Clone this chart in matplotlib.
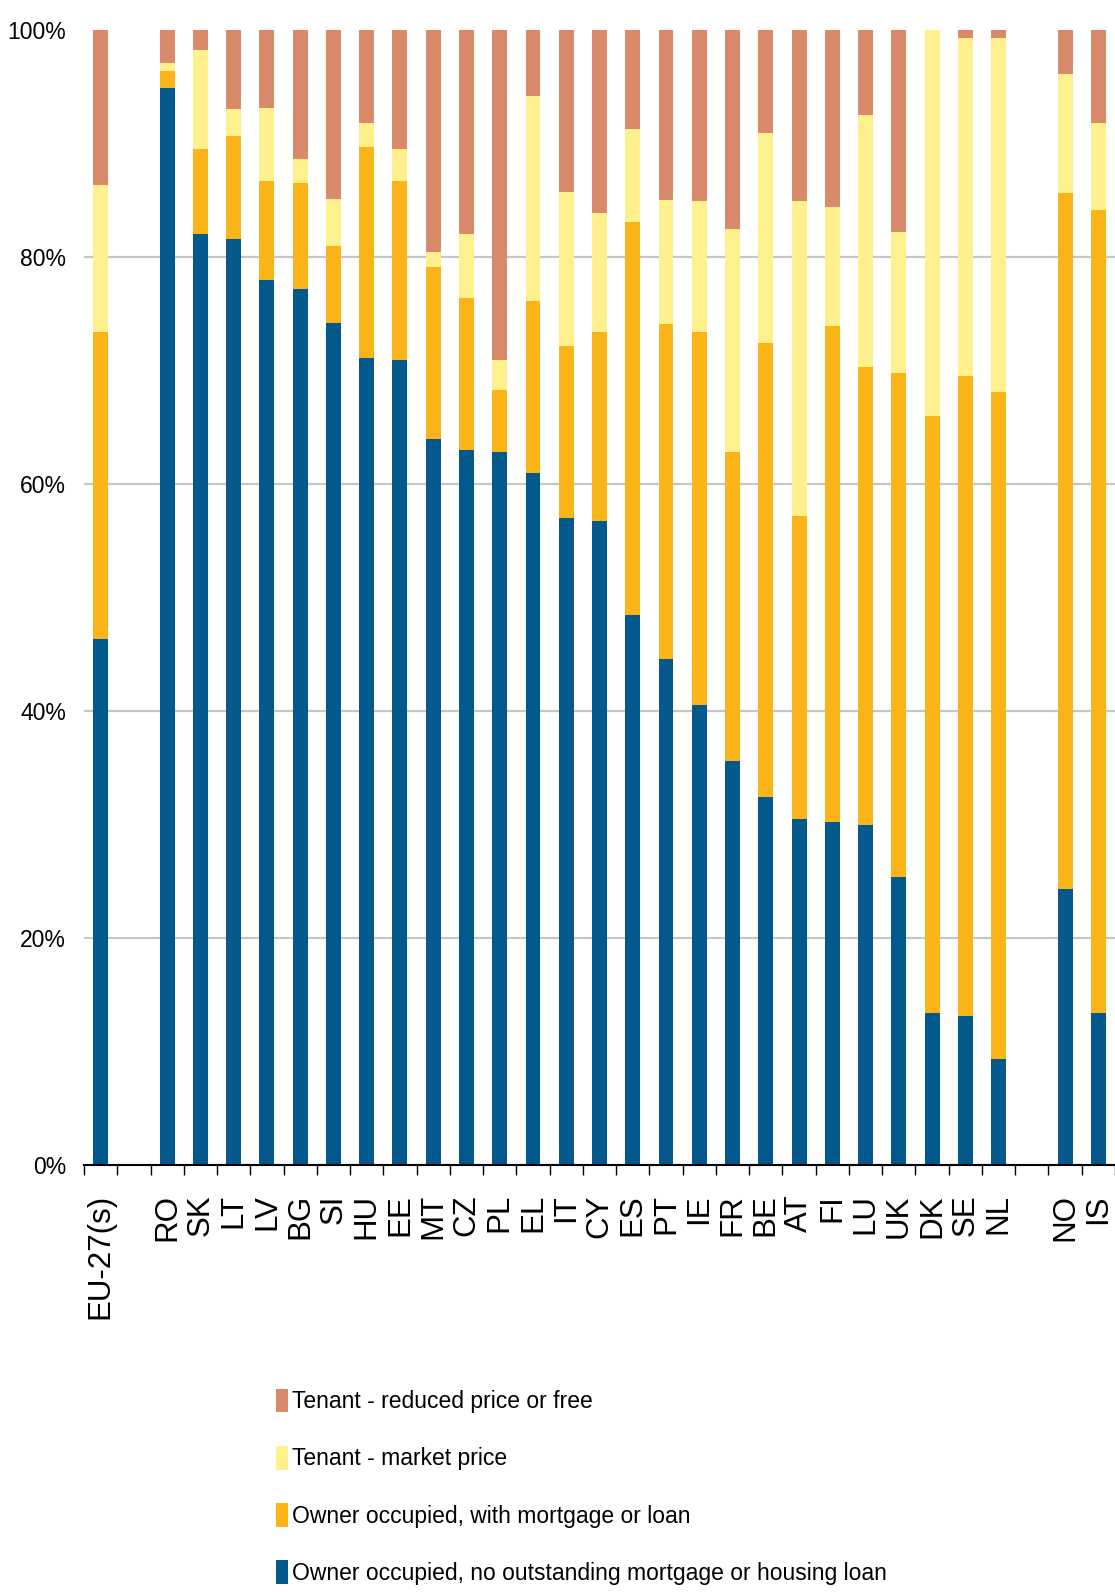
import numpy as np
import matplotlib
matplotlib.use('Agg')
import matplotlib.pyplot as plt
from matplotlib.ticker import FixedLocator, PercentFormatter
from matplotlib.patches import Patch

# tenure status of the population, % share (EU-27, member states, then NO and IS)
eu_labels = ['EU-27(s)']
member_labels = ['RO', 'SK', 'LT', 'LV', 'BG', 'SI', 'HU', 'EE', 'MT', 'CZ', 'PL', 'EL', 'IT',
                 'CY', 'ES', 'PT', 'IE', 'FR', 'BE', 'AT', 'FI', 'LU', 'UK', 'DK', 'SE', 'NL']
efta_labels = ['NO', 'IS']

no_mortgage = [46.3,
               94.9, 82.0, 81.6, 78.0, 77.2, 74.2, 71.1, 70.9, 64.0, 63.0, 62.8, 61.0, 57.0,
               56.7, 48.5, 44.6, 40.5, 35.6, 32.4, 30.5, 30.2, 30.0, 25.4, 13.4, 13.1, 9.3,
               24.3, 13.4]
with_mortgage = [27.1,
                 1.5, 7.5, 9.1, 8.7, 9.3, 6.8, 18.6, 15.8, 15.1, 13.4, 5.5, 15.1, 15.2,
                 16.7, 34.6, 29.5, 32.9, 27.2, 40.0, 26.7, 43.7, 40.3, 44.4, 52.6, 56.4, 58.8,
                 61.3, 70.7]
tenant_market = [12.9,
                 0.7, 8.7, 2.3, 6.4, 2.1, 4.1, 2.1, 2.8, 1.3, 5.6, 2.6, 18.1, 13.5,
                 10.5, 8.2, 10.9, 11.5, 19.7, 18.5, 27.7, 10.5, 22.2, 12.4, 34.0, 29.8, 31.2,
                 10.5, 7.7]
tenant_reduced = [13.7,
                  2.9, 1.8, 7.0, 6.9, 11.4, 14.9, 8.2, 10.5, 19.6, 18.0, 29.1, 5.8, 14.3,
                  16.1, 8.7, 15.0, 15.1, 17.5, 9.1, 15.1, 15.6, 7.5, 17.8, 0.0, 0.7, 0.7,
                  3.9, 8.2]

series_names = ['Owner occupied, no outstanding mortgage or housing loan',
                'Owner occupied, with mortgage or loan',
                'Tenant - market price',
                'Tenant - reduced price or free']
colors = ['#03588c', '#fab417', '#fef08c', '#d88a6b']

labels = eu_labels + member_labels + efta_labels
# one empty slot between the groups
x = np.concatenate([np.arange(len(eu_labels)),
                    np.arange(len(member_labels)) + len(eu_labels) + 1,
                    np.arange(len(efta_labels)) + len(eu_labels) + len(member_labels) + 2])
n_slots = int(x[-1]) + 1

font = ['Liberation Sans', 'DejaVu Sans']

fig = plt.figure(figsize=(11.15, 15.92), dpi=100)
ax = fig.add_axes([84 / 1115, 1 - 1165 / 1592, 1031 / 1115, 1135 / 1592])

bottom = np.zeros(len(labels))
for vals, color in zip([no_mortgage, with_mortgage, tenant_market, tenant_reduced], colors):
    ax.bar(x, vals, width=0.45, bottom=bottom, color=color, linewidth=0, zorder=2)
    bottom += np.array(vals)

ax.set_xlim(-0.5, n_slots - 0.5)
ax.set_ylim(0, 100)

ax.set_yticks(np.arange(0, 101, 20))
ax.yaxis.set_major_formatter(PercentFormatter(decimals=0))
ax.tick_params(axis='y', length=0, pad=13)
for lab in ax.get_yticklabels():
    lab.set_family(font)
    lab.set_fontsize(16.5)

ax.set_xticks(x)
ax.set_xticklabels(labels, rotation=90, fontsize=22.5, family=font)
ax.tick_params(axis='x', which='major', length=0, pad=21)
ax.xaxis.set_minor_locator(FixedLocator(np.arange(-0.5, n_slots, 1)))
ax.tick_params(axis='x', which='minor', length=7, width=1.0, color='black', direction='out')

ax.yaxis.grid(True, color='#c6c6c6', linewidth=1.6, zorder=0)
ax.set_axisbelow(True)
ax.yaxis.get_gridlines()[-1].set_visible(False)

for side in ['top', 'right', 'left']:
    ax.spines[side].set_visible(False)
ax.spines['bottom'].set_linewidth(1.5)
ax.spines['bottom'].set_zorder(3)

handles = [Patch(facecolor=c, linewidth=0) for c in colors][::-1]
fig.legend(handles, series_names[::-1], loc='upper left',
           bbox_to_anchor=(276 / 1115, 1 - 1389 / 1592), frameon=False,
           prop={'family': font, 'size': 16.5},
           handlelength=0.52, handleheight=1.2, handletextpad=0.2,
           labelspacing=1.42, borderaxespad=0, borderpad=0)

fig.savefig('out.png', dpi=100, facecolor='white')
